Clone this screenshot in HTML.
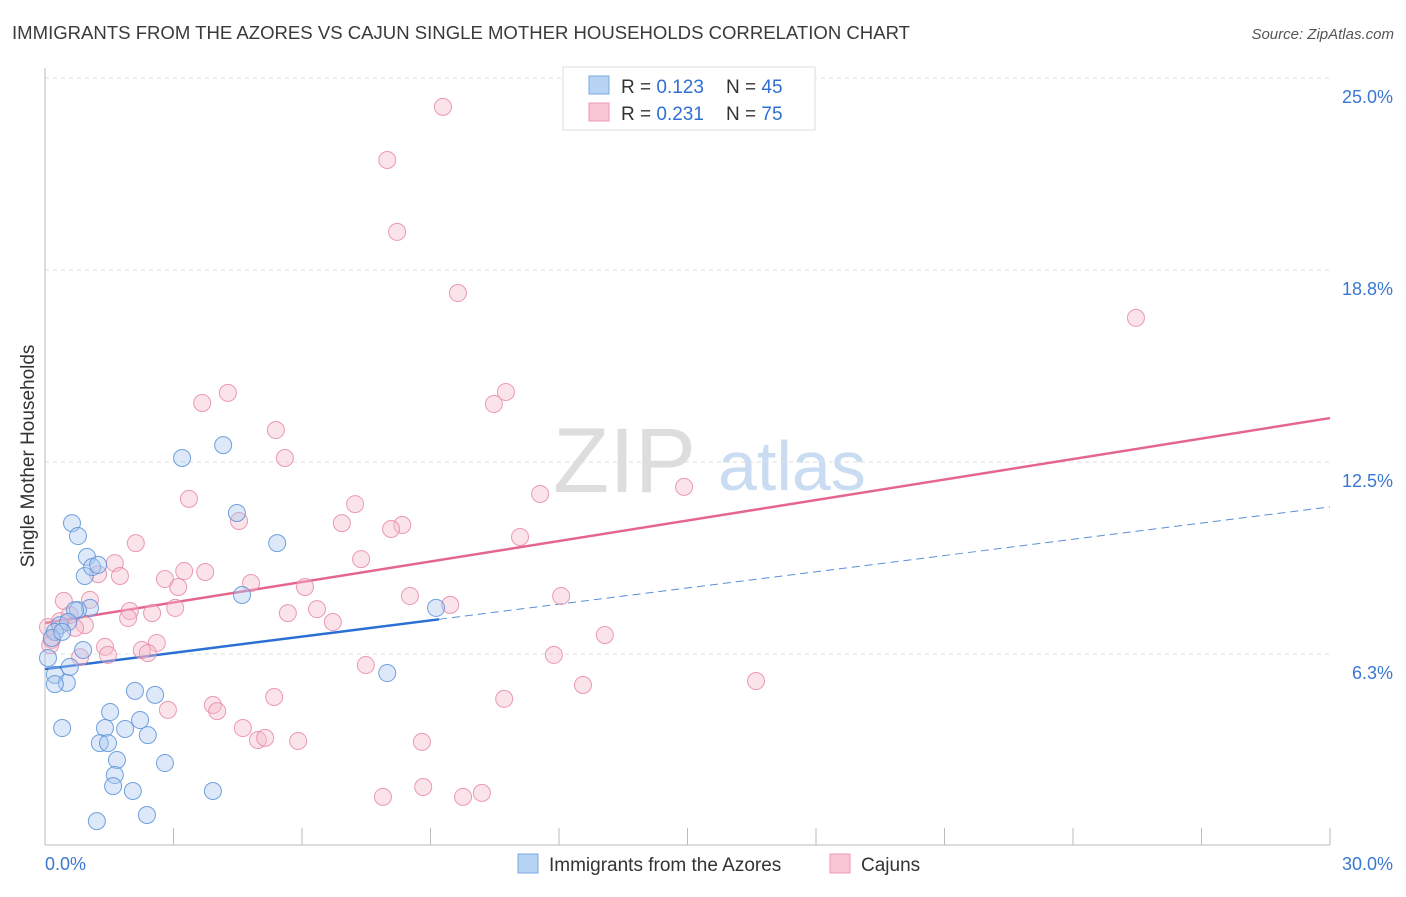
<!DOCTYPE html>
<html><head><meta charset="utf-8"><style>
body{margin:0;background:#fff;font-family:"Liberation Sans",sans-serif;}
svg text{font-family:"Liberation Sans",sans-serif;}
</style></head><body>
<svg id="chart" width="1406" height="892">
<text x="12" y="39" font-size="18.5" fill="#3a3a3a" textLength="898" lengthAdjust="spacingAndGlyphs">IMMIGRANTS FROM THE AZORES VS CAJUN SINGLE MOTHER HOUSEHOLDS CORRELATION CHART</text>
<text x="1394" y="39" font-size="15" fill="#555" text-anchor="end" font-style="italic">Source: ZipAtlas.com</text>
<text x="0" y="0" transform="translate(34,456) rotate(-90)" font-size="19" fill="#333" text-anchor="middle">Single Mother Households</text>
<g>
<text x="553" y="492" font-size="92" fill="#ddd" font-family="Liberation Serif,serif">ZIP</text>
<text x="718" y="490" font-size="70" fill="#c9dcf2">atlas</text>
</g>
<g id="grid"></g><g id="axes"></g><g id="trends"></g><g id="points"></g>
<g>
<rect x="563" y="67" width="252" height="63" fill="#fff" stroke="#ddd"/>
<rect x="589" y="76" width="20" height="18" fill="#b8d4f4" stroke="#7aa9e0"/>
<rect x="589" y="103" width="20" height="18" fill="#f9c6d6" stroke="#ec9ab4"/>
<text x="621" y="93" font-size="19" fill="#333">R = <tspan fill="#2f6fd0">0.123</tspan></text>
<text x="726" y="93" font-size="19" fill="#333">N = <tspan fill="#2f6fd0">45</tspan></text>
<text x="621" y="120" font-size="19" fill="#333">R = <tspan fill="#2f6fd0">0.231</tspan></text>
<text x="726" y="120" font-size="19" fill="#333">N = <tspan fill="#2f6fd0">75</tspan></text>
</g>
<g>
<rect x="518" y="854" width="20" height="19" fill="#b8d4f4" stroke="#7aa9e0"/>
<text x="549" y="871" font-size="19" fill="#333">Immigrants from the Azores</text>
<rect x="830" y="854" width="20" height="19" fill="#f9c6d6" stroke="#ec9ab4"/>
<text x="861" y="871" font-size="19" fill="#333">Cajuns</text>
</g>
</svg>
<script>
const blueX=[0.63,0.77,0.98,0.93,1.10,1.24,1.05,0.77,0.70,0.35,0.23,0.16,0.07,0.23,0.51,0.23,0.58,0.89,1.52,1.40,0.40,1.28,1.47,1.87,2.22,2.10,2.57,2.40,1.68,1.63,1.59,2.05,2.80,1.21,2.38,3.92,3.20,4.16,4.48,5.42,4.60,7.99,9.13,0.54,0.40];
const blueY=[10.51,10.09,9.41,8.79,9.08,9.15,7.75,7.68,7.68,7.19,6.97,6.77,6.12,5.57,5.31,5.27,5.83,6.38,4.36,3.84,3.84,3.35,3.35,3.81,4.10,5.05,4.92,3.61,2.80,2.31,1.95,1.79,2.70,0.81,1.01,1.79,12.63,13.05,10.84,9.86,8.17,5.63,7.75,7.29,6.97];
const pinkX=[9.29,7.99,8.22,9.64,25.47,10.76,10.48,4.27,3.67,5.39,5.60,3.36,14.92,11.56,7.24,4.53,6.93,8.34,8.08,11.09,2.12,7.38,1.63,1.75,1.24,2.80,3.25,3.74,4.81,6.07,3.11,0.44,1.05,1.98,2.50,3.04,5.67,6.35,8.52,9.46,12.05,1.94,0.93,0.70,0.35,0.16,0.82,1.40,1.47,2.61,2.26,2.40,6.72,13.07,7.49,11.88,0.12,0.07,16.60,12.56,5.35,2.87,3.92,4.02,10.72,4.62,4.97,5.14,5.91,8.80,7.89,8.83,9.76,10.20,0.58];
const pinkY=[24.06,22.33,19.99,18.00,17.19,14.78,14.39,14.75,14.42,13.54,12.63,11.30,11.69,11.46,11.13,10.58,10.51,10.45,10.32,10.06,9.86,9.34,9.21,8.79,8.85,8.69,8.95,8.92,8.56,8.43,8.43,7.98,8.01,7.65,7.58,7.75,7.58,7.71,8.14,7.85,8.14,7.42,7.19,7.10,7.32,6.71,6.15,6.48,6.22,6.61,6.38,6.28,7.29,6.87,5.89,6.22,6.54,7.13,5.37,5.24,4.85,4.43,4.59,4.39,4.79,3.84,3.45,3.52,3.42,3.39,1.60,1.92,1.60,1.73,7.52];
const yTicks=[6.25,12.5,18.75,25];
const yTickLabels=["6.3%","12.5%","18.8%","25.0%"];
const xTicks=[0,3,6,9,12,15,18,21,24,27,30];
const blueTrend=[5.76,11.04], blueSolidEnd=9.2;
const pinkTrend=[7.26,13.93];
const NS="http://www.w3.org/2000/svg";
const X0=45,X1=1330,Y0=846,PXPER=192/6.25;
function sx(v){return X0+(v/30)*(X1-X0);}
function sy(v){return Y0-v*PXPER;}
function mk(tag,attrs,parent){const e=document.createElementNS(NS,tag);for(const k in attrs)e.setAttribute(k,attrs[k]);parent.appendChild(e);return e;}
const grid=document.getElementById('grid'),axes=document.getElementById('axes');
yTicks.forEach((t,i)=>{
 const l=mk('line',{x1:X0,x2:X1,y1:sy(t),y2:sy(t),stroke:'#ddd','stroke-dasharray':'4,4'},grid);
 
 
 const tx=mk('text',{x:1393,y:sy(t)+25,'font-size':18,fill:'#3a78d0','text-anchor':'end'},axes);
 tx.textContent=yTickLabels[i];
 
 
});
const ax=mk('line',{x1:X0,x2:X0,y1:68,y2:845,stroke:'#bbb'},axes);


const bx=mk('line',{x1:X0,x2:X1,y1:845,y2:845,stroke:'#bbb'},axes);


xTicks.forEach(t=>{
 if(t===0)return;
 const l=mk('line',{x1:sx(t),x2:sx(t),y1:828,y2:845,stroke:'#bbb'},axes);
 
 
});
const xl=mk('text',{x:45,y:870,'font-size':18,fill:'#3a78d0'},axes);xl.textContent='0.0%';


const xr=mk('text',{x:1393,y:870,'font-size':18,fill:'#3a78d0','text-anchor':'end'},axes);xr.textContent='30.0%';


const pts=document.getElementById('points');
function dots(xs,ys,fill,stroke,name){xs.forEach((x,i)=>{
 const c=mk('circle',{cx:sx(x),cy:sy(ys[i]),r:8.5,fill:fill,'fill-opacity':0.4,stroke:stroke,'stroke-width':1,'stroke-opacity':0.85},pts);
 
 
});}
dots(pinkX,pinkY,'#f6b8cb','#e88aa8','cajun-point');
dots(blueX,blueY,'#a9c9f0','#5b92d8','azores-point');
const tr=document.getElementById('trends');
function ty(tr2,x){return tr2[0]+(tr2[1]-tr2[0])*x/30;}
const b1=mk('line',{x1:sx(0),y1:sy(ty(blueTrend,0)),x2:sx(blueSolidEnd),y2:sy(ty(blueTrend,blueSolidEnd)),stroke:'#2a6fd6','stroke-width':2.5},tr);


const b2=mk('line',{x1:sx(blueSolidEnd),y1:sy(ty(blueTrend,blueSolidEnd)),x2:sx(30),y2:sy(ty(blueTrend,30)),stroke:'#5b8fd8','stroke-width':1,'stroke-dasharray':'8,5'},tr);


const p1=mk('line',{x1:sx(0),y1:sy(ty(pinkTrend,0)),x2:sx(30),y2:sy(ty(pinkTrend,30)),stroke:'#e4668f','stroke-width':2.5},tr);


</script>
</body></html>
